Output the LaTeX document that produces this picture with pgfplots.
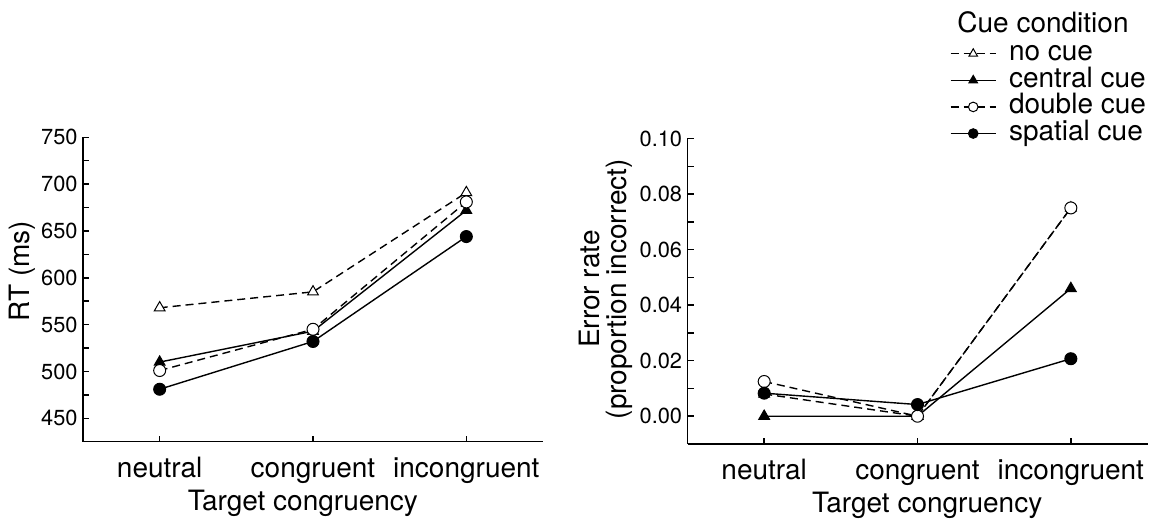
\documentclass[border=0pt]{standalone}
\usepackage{fontspec}
\setmainfont{TeX Gyre Heros}
\usepackage{pgfplots}
\pgfplotsset{compat=1.18}
\pgfplotsset{
  myaxis/.style={
    scale only axis, width=230pt,
    axis x line=bottom, axis y line=left,
    axis line style={-, line width=0.75pt},
    every outer x axis line/.append style={-},
    every outer y axis line/.append style={-},
    tick align=inside,
    major tick length=3pt, minor tick length=3pt,
    tick style={line width=0.75pt, black},
    xmin=-0.5, xmax=2.5,
    xtick={0,1,2}, xticklabels={neutral,congruent,incongruent},
    xticklabel style={font=\fontsize{14}{14}\selectfont, anchor=base, yshift=-17.8pt},
    yticklabel style={font=\fontsize{10.9}{12}\selectfont, anchor=east, inner sep=0pt, xshift=-2.5pt},
    /pgf/number format/assume math mode=true,
    label style={font=\fontsize{14}{13.5}\selectfont},
    xlabel style={anchor=base},
    ylabel style={anchor=center, align=center},
    every axis plot/.append style={line width=0.7pt, black},
    clip=false,
  },
  nocue/.style={dash pattern=on 4pt off 2.5pt, mark=triangle*, mark size=3.1pt, mark options={solid, fill=white, draw=black, line width=0.5pt}},
  central/.style={solid, mark=triangle*, mark size=3.1pt, mark options={solid, fill=black, draw=black, line width=0.5pt}},
  double/.style={dash pattern=on 4pt off 2.5pt, mark=*, mark size=3pt, mark options={solid, fill=white, draw=black, line width=0.5pt}},
  spatial/.style={solid, mark=*, mark size=3pt, mark options={solid, fill=black, draw=black, line width=0.5pt}},
}
\begin{document}
\begin{tikzpicture}
\path[use as bounding box] (0,0) rectangle (577pt,261.5pt);
% Left: RT
\begin{axis}[myaxis,
  at={(41.5pt,40.65pt)}, anchor=south west, height=152.2pt,
  ymin=425, ymax=750,
  ytick={450,500,550,600,650,700,750},
  minor ytick={475,525,575,625,675,725},
  ylabel={RT (ms)},
  ylabel style={at={(axis description cs:-0.1315,0.561)}},
  xlabel={Target congruency},
  xlabel style={at={(axis description cs:0.478,-0.2247)}},
]
\addplot[nocue] coordinates {(0,568) (1,585) (2,691)};
\addplot[central] coordinates {(0,510) (1,543) (2,672)};
\addplot[double] coordinates {(0,501) (1,545) (2,681)};
\addplot[spatial] coordinates {(0,481) (1,532) (2,644)};
\end{axis}
% Right: error rate
\begin{axis}[myaxis,
  at={(343.75pt,39.5pt)}, anchor=south west, height=152.75pt,
  ymin=-0.01, ymax=0.10,
  ytick={0,0.02,0.04,0.06,0.08,0.10},
  minor ytick={0.01,0.03,0.05,0.07,0.09},
  scaled y ticks=false,
  yticklabel style={/pgf/number format/.cd, fixed, fixed zerofill, precision=2},
  ylabel={Error rate\\(proportion incorrect)},
  ylabel style={at={(axis description cs:-0.178,0.507)}},
  xlabel={Target congruency},
  xlabel style={at={(axis description cs:0.521,-0.2247)}},
  legend style={at={(axis description cs:0.5707,1.321)}, anchor=north west, draw=none, fill=none,
    inner sep=0pt, outer sep=0pt, row sep=0pt, column sep=6pt,
    nodes={font=\fontsize{14}{14}\selectfont, inner sep=0.3pt, text height=9.7pt, text depth=3pt}},
  legend cell align=left,
  legend image code/.code={\draw[mark repeat=2,mark phase=2,#1,every mark/.append style={scale=0.8}] plot coordinates {(0pt,0pt) (11.25pt,0pt) (22.5pt,0pt)};},
]
\addplot[nocue] coordinates {(0,0.008) (1,0.000) (2,0.075)};
\addlegendentry{no cue}
\addplot[central] coordinates {(0,0.000) (1,0.000) (2,0.046)};
\addlegendentry{central cue}
\addplot[double] coordinates {(0,0.0125) (1,0.000) (2,0.075)};
\addlegendentry{double cue}
\addplot[spatial] coordinates {(0,0.0083) (1,0.0042) (2,0.0207)};
\addlegendentry{spatial cue}
\node[anchor=base west, inner sep=0pt, font=\fontsize{14}{14}\selectfont] at (axis description cs:0.5859,1.3475) {Cue condition};
\end{axis}
\end{tikzpicture}
\end{document}
